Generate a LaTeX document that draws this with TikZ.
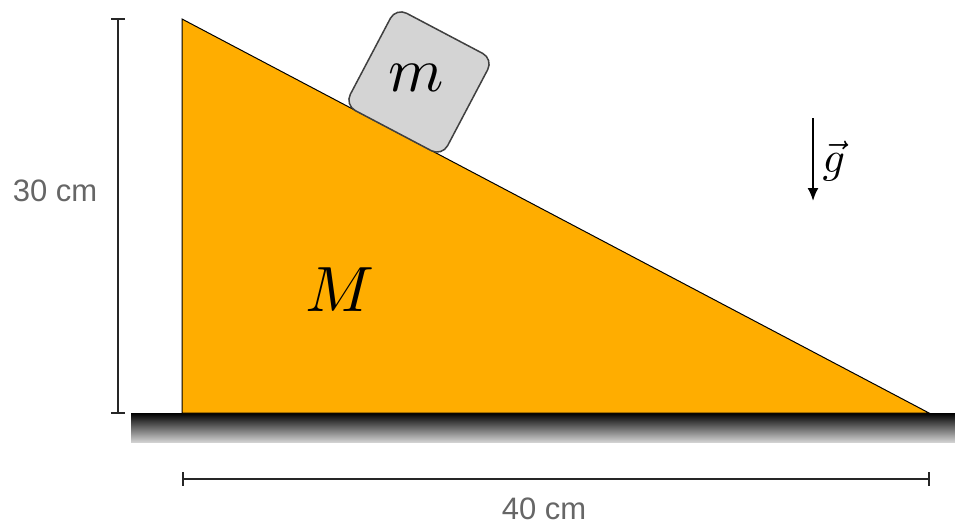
\documentclass[tikz,border=0pt]{standalone}
\usepackage{fontspec}
\newfontfamily\labfont{Liberation Sans}
\usetikzlibrary{arrows.meta}
\definecolor{wedgeorange}{RGB}{255,173,0}
\definecolor{blockgray}{RGB}{212,212,212}
\definecolor{labgray}{RGB}{102,102,102}
\tikzset{
  wedge/.style={fill=wedgeorange, draw=black, line width=1pt, line join=miter},
  blockbox/.style={draw=black!75, fill=blockgray, line width=1.5pt, rounded corners=12pt, minimum size=110pt, inner sep=0pt},
  dimline/.style={draw=black!85, line width=2.8pt},
  dimlab/.style={text=labgray, font=\labfont\fontsize{31}{31}\selectfont, inner sep=0pt},
  gravarrow/.style={draw=black, line width=2pt, -{Latex[length=13pt,width=11pt]}},
}
\begin{document}
\begin{tikzpicture}[x=1pt,y=-1pt]
\useasboundingbox (0,0) rectangle (955,525);
% ground
\shade[top color=black, bottom color=black!18] (131,413) rectangle (955,442);
% wedge
\coordinate (A) at (182,19);
\coordinate (B) at (182,413);
\coordinate (C) at (929,413);
\draw[wedge] (A) -- (B) -- (C) -- cycle;
\node[inner sep=0pt] (Mlab) at (340,290) {\scalebox{6.4}{$M$}};
% block
\node[blockbox, rotate=-27.8] (blk) at (419,82) {};
\node[inner sep=0pt] (mlab) at (416,78) {\scalebox{6.3}{$m$}};
% gravity
\coordinate (g1) at (813,118);
\coordinate (g2) at (813,201);
\draw[gravarrow] (g1) -- (g2);
\node[inner sep=0pt] (glab) at (834,161) {\scalebox{4.4}{$\vec g$}};
% vertical dimension
\coordinate (v1) at (118,19);
\coordinate (v2) at (118,413);
\coordinate (v1a) at (111,19); \coordinate (v1b) at (125,19);
\coordinate (v2a) at (111,413); \coordinate (v2b) at (125,413);
\draw[dimline] (v1) -- (v2);
\draw[dimline] (v1a) -- (v1b);
\draw[dimline] (v2a) -- (v2b);
\node[dimlab] (h30) at (55,191) {30 cm};
% horizontal dimension
\coordinate (h1) at (183,479);
\coordinate (h2) at (929,479);
\coordinate (h1a) at (183,472); \coordinate (h1b) at (183,486);
\coordinate (h2a) at (929,472); \coordinate (h2b) at (929,486);
\draw[dimline] (h1) -- (h2);
\draw[dimline] (h1a) -- (h1b);
\draw[dimline] (h2a) -- (h2b);
\node[dimlab] (w40) at (544,509) {40 cm};
\end{tikzpicture}
\end{document}
